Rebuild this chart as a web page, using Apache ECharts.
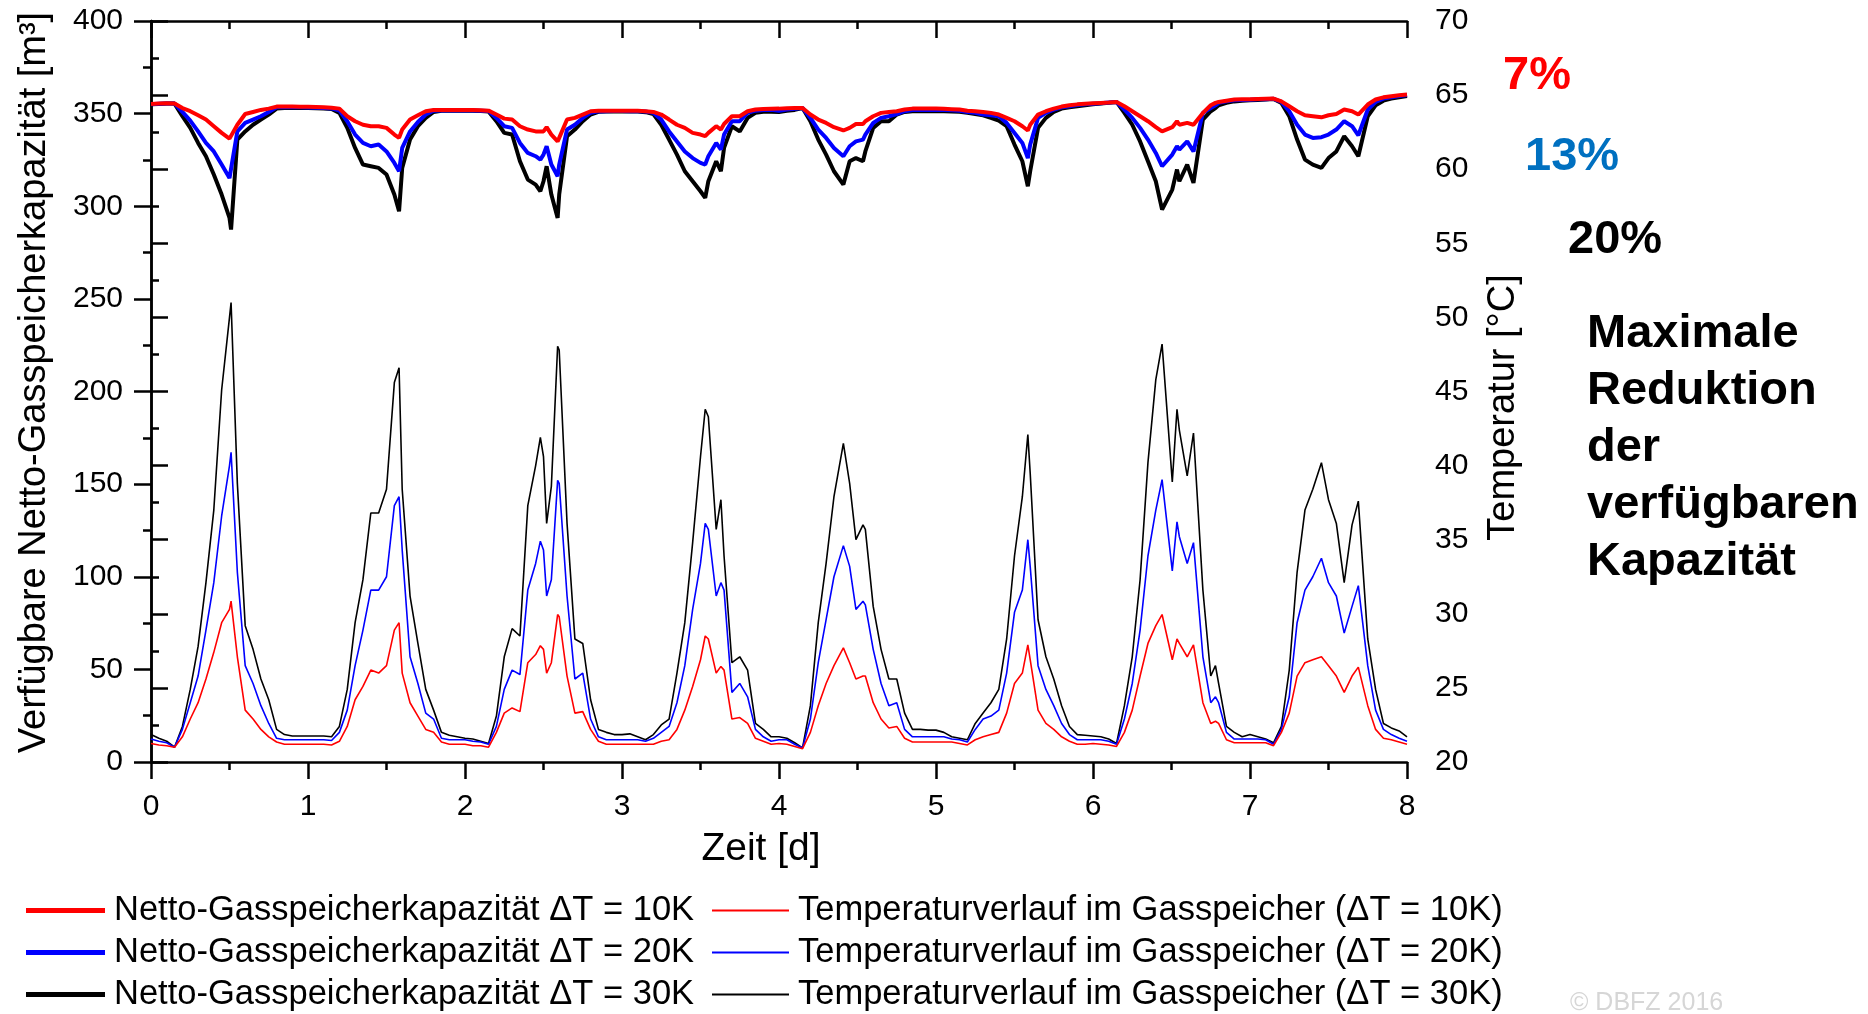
<!DOCTYPE html>
<html>
<head>
<meta charset="utf-8">
<script src="https://cdn.jsdelivr.net/npm/echarts@6/dist/echarts.min.js"></script>
<style>
  html, body { margin: 0; padding: 0; background: #fff; }
  #chart { width: 1868px; height: 1014px; }
</style>
</head>
<body>
<div id="chart"></div>
<script>
// Zeit [d] - gemeinsame Stuetzstellen fuer alle Kurven
const zeit = [
  0, 0.05, 0.1, 0.15, 0.2, 0.25, 0.3, 0.35, 0.4, 0.45, 0.5, 0.51, 0.55, 0.6, 0.65, 0.7, 0.75, 0.8, 0.85, 0.9, 0.95,
  1, 1.05, 1.1, 1.15, 1.2, 1.25, 1.3, 1.35, 1.4, 1.45, 1.5, 1.55, 1.58, 1.6, 1.65, 1.7, 1.75, 1.8, 1.85, 1.9, 1.95,
  2, 2.05, 2.1, 2.15, 2.2, 2.25, 2.3, 2.35, 2.4, 2.45, 2.48, 2.5, 2.52, 2.55, 2.59, 2.6, 2.65, 2.7, 2.75, 2.8, 2.85, 2.9, 2.95,
  3, 3.05, 3.1, 3.15, 3.2, 3.25, 3.3, 3.35, 3.4, 3.45, 3.5, 3.53, 3.55, 3.6, 3.63, 3.65, 3.7, 3.75, 3.8, 3.85, 3.9, 3.95,
  4, 4.05, 4.1, 4.15, 4.2, 4.25, 4.3, 4.35, 4.41, 4.45, 4.49, 4.535, 4.55, 4.6, 4.65, 4.7, 4.75, 4.8, 4.85, 4.9, 4.95,
  5, 5.05, 5.1, 5.15, 5.2, 5.25, 5.3, 5.35, 5.4, 5.45, 5.5, 5.55, 5.585, 5.6, 5.65, 5.7, 5.75, 5.8, 5.85, 5.9, 5.95,
  6, 6.05, 6.1, 6.15, 6.2, 6.25, 6.3, 6.35, 6.4, 6.44, 6.505, 6.535, 6.55, 6.6, 6.64, 6.7, 6.75, 6.78, 6.8, 6.85, 6.9, 6.95,
  7, 7.05, 7.1, 7.15, 7.2, 7.25, 7.3, 7.35, 7.4, 7.455, 7.5, 7.55, 7.6, 7.65, 7.69, 7.75, 7.8, 7.85, 7.9, 7.95, 8
];

// Netto-Gasspeicherkapazitaet [m3]
const kap10 = [
  355.2, 355.4, 355.6, 355.5, 353, 351.3, 349.1, 346.8, 343.2, 339.6, 336.5, 336, 344, 349.8, 350.9, 352, 352.7, 353.8, 353.8, 353.8, 353.7,
  353.7, 353.6, 353.5, 353.2, 352.7, 348.6, 345.9, 344, 343.2, 343.2, 342.3, 338.7, 336.9, 341.4, 346.8, 349.1, 351.3, 352, 352, 351.9, 351.9,
  351.9, 351.9, 351.8, 351.6, 349.5, 347.3, 346.8, 343.2, 341.4, 340.4, 340.4, 340.4, 342.7, 338.7, 335, 336.9, 346.8, 347.7, 349.5, 351.3, 351.5, 351.5, 351.6,
  351.6, 351.5, 351.5, 351.3, 350.9, 349.5, 346.8, 344, 342.3, 339.6, 338.7, 337.8, 339.6, 343.2, 341.4, 344.4, 348.6, 348.6, 351.3, 352.2, 352.5, 352.6,
  352.7, 352.9, 353, 353, 349.5, 346.8, 345, 342.7, 340.9, 342.3, 344.4, 344.4, 345.9, 348.6, 350.4, 350.9, 351.3, 352.2, 352.7, 352.7, 352.7,
  352.7, 352.6, 352.4, 352.2, 351.6, 351.3, 350.9, 350.4, 349.5, 347.7, 345.9, 343.2, 340.9, 344, 349.5, 351.3, 352.7, 353.8, 354.5, 355, 355.3,
  355.6, 355.8, 356, 356.3, 354, 351.3, 348.6, 345.9, 342.7, 340.4, 342.7, 345.9, 344, 345, 344, 350.4, 354.5, 355.8, 356.3, 357, 357.6, 357.7,
  357.8, 357.9, 358, 358.1, 356.6, 354, 351.3, 349.1, 348.6, 348, 349.1, 349.8, 352.2, 351.3, 349.5, 354.9, 357.6, 358.8, 359.4, 359.9, 360.3
];
const kap20 = [
  355, 355.3, 355.5, 355.4, 350.9, 346.2, 340.4, 334.2, 329.6, 322.5, 315.2, 314.4, 340.4, 345, 346.8, 348.6, 350.9, 353.4, 353.4, 353.4, 353.4,
  353.3, 353.2, 353.1, 352.8, 351.6, 345.9, 338.7, 334.2, 332.4, 333.3, 329.6, 323.4, 318.9, 331.5, 340.4, 345.5, 349.5, 351.6, 351.7, 351.7, 351.7,
  351.7, 351.7, 351.6, 351.4, 347.7, 343.2, 342.3, 334.2, 328.8, 327, 325.2, 327.9, 332.4, 322.5, 316.2, 322.5, 341.4, 344, 347.7, 350.4, 351.2, 351.3, 351.4,
  351.4, 351.3, 351.3, 351.1, 350.4, 346.8, 340.4, 335, 329.6, 326, 323.4, 322.5, 327, 334.2, 330.6, 338.7, 345.9, 345.9, 350.4, 351.6, 351.9, 352.1,
  351.6, 352.2, 352.6, 353, 347.7, 341.4, 336.9, 331.5, 327, 332.4, 335, 336, 338.7, 345, 347.7, 348.6, 349.8, 351.3, 352, 352, 352,
  352, 352, 351.8, 351.5, 350.9, 350.4, 349.5, 349.1, 348.6, 345, 339.6, 334.2, 326, 333.3, 347.7, 350.4, 352.2, 353.4, 354, 354.6, 355,
  355.3, 355.6, 356, 356.3, 352.2, 347.7, 342.3, 336, 328.8, 321.6, 327.9, 332.4, 330.6, 335, 329.6, 350.4, 353, 354.5, 355.8, 356.7, 357.2, 357.4,
  357.5, 357.7, 357.8, 358, 356.3, 351.3, 344, 338.7, 336.9, 337.3, 338.7, 341.4, 345.9, 343.2, 338.3, 352.2, 356.3, 358.1, 358.8, 359.5, 360.1
];
const kap30 = [
  355, 355.2, 355.4, 355.4, 348.6, 342.3, 334.2, 327, 317.1, 306.3, 293.7, 287.4, 336, 340.4, 344, 346.8, 349.5, 352.7, 353, 353, 353,
  353, 352.9, 352.8, 352.5, 350.4, 342.3, 331.5, 322.5, 321.6, 320.7, 317.1, 306.3, 297.3, 320.7, 336, 343.2, 347.7, 350.9, 351.5, 351.5, 351.5,
  351.5, 351.5, 351.4, 351.2, 345.9, 339.6, 338.7, 324.3, 314.4, 311.7, 308.1, 313.5, 321.6, 306.3, 293.7, 306.3, 337.8, 341.4, 345.9, 349.5, 351, 351.1, 351.2,
  351.2, 351.1, 351.1, 350.8, 349.8, 344, 336, 327.9, 318.9, 313.5, 308.1, 304.5, 313.5, 324.3, 318.9, 331.5, 343.2, 340.4, 347.7, 350.4, 351, 351,
  350.9, 351.5, 352, 353, 345.9, 336, 327.9, 318.9, 311.7, 324.3, 326, 324.3, 329.6, 342.3, 345.9, 345.9, 349.5, 350.9, 351.3, 351.3, 351.3,
  351.3, 351.3, 351.2, 351, 350.4, 349.8, 349.1, 347.7, 346.2, 343.2, 333.3, 324.3, 310.8, 318.9, 342.3, 347.7, 350.9, 352.7, 353.4, 354, 354.5,
  355, 355.4, 355.8, 356.3, 350.4, 344, 335, 324.3, 313.5, 298.2, 309, 319.8, 313.5, 322.5, 312.6, 346.8, 351.3, 353, 354.5, 355.8, 356.6, 357,
  357.2, 357.4, 357.6, 357.9, 355.8, 348.6, 336, 325.2, 322.5, 320.7, 326, 329.6, 337.8, 332.4, 327, 348.6, 354.5, 357, 358.1, 358.8, 359.5
];

// Temperaturverlauf im Gasspeicher [°C]
const temp10 = [
  21.25, 21.15, 21.1, 21.0, 21.7, 22.9, 24.0, 25.6, 27.4, 29.4, 30.3, 30.85, 27.1, 23.5, 22.9, 22.2, 21.7, 21.35, 21.2, 21.2, 21.2,
  21.2, 21.2, 21.2, 21.15, 21.4, 22.4, 24.2, 25.1, 26.2, 26.0, 26.5, 28.9, 29.4, 26.0, 24.0, 23.1, 22.2, 22.0, 21.35, 21.2, 21.2,
  21.2, 21.1, 21.1, 21.0, 22.0, 23.3, 23.65, 23.4, 26.7, 27.25, 27.85, 27.6, 26.0, 26.7, 29.95, 29.8, 25.8, 23.3, 23.4, 22.2, 21.4, 21.2, 21.2,
  21.2, 21.2, 21.2, 21.2, 21.2, 21.4, 21.5, 22.2, 23.5, 25.1, 26.9, 28.5, 28.3, 26.0, 26.45, 26.2, 22.9, 23.0, 22.6, 21.6, 21.4, 21.2,
  21.25, 21.2, 21.05, 20.9, 22.0, 23.8, 25.3, 26.5, 27.7, 26.7, 25.6, 25.8, 25.8, 24.0, 22.9, 22.3, 22.4, 21.6, 21.35, 21.35, 21.35,
  21.35, 21.35, 21.35, 21.25, 21.15, 21.5, 21.7, 21.85, 22.0, 23.3, 25.3, 26.0, 27.9, 26.9, 23.5, 22.6, 22.2, 21.7, 21.4, 21.2, 21.2,
  21.25, 21.2, 21.15, 21.05, 22.0, 23.5, 25.8, 28.0, 29.2, 29.95, 26.9, 28.3, 28.0, 27.1, 27.9, 24.0, 22.6, 22.75, 22.6, 21.5, 21.3, 21.3,
  21.3, 21.3, 21.3, 21.1, 22.0, 23.3, 25.8, 26.7, 26.9, 27.1, 26.5, 25.8, 24.7, 25.8, 26.4, 23.8, 22.2, 21.6, 21.5, 21.35, 21.2
];
const temp20 = [
  21.55, 21.4, 21.3, 21.0, 22.2, 24.0, 25.8, 28.9, 32.1, 36.6, 40.0, 40.9, 32.8, 26.5, 25.3, 23.8, 22.6, 21.6, 21.5, 21.5, 21.5,
  21.5, 21.5, 21.5, 21.45, 22.0, 23.5, 26.5, 28.9, 31.6, 31.6, 32.5, 37.3, 37.9, 34.3, 27.1, 25.3, 23.3, 22.9, 21.6, 21.5, 21.5,
  21.5, 21.4, 21.35, 21.2, 22.4, 24.9, 26.2, 25.9, 31.6, 33.4, 34.9, 34.3, 31.2, 32.3, 39.0, 38.8, 31.2, 25.6, 26.0, 22.9, 21.7, 21.5, 21.5,
  21.5, 21.5, 21.5, 21.4, 21.6, 22.0, 22.4, 24.0, 26.5, 30.3, 33.4, 36.1, 35.7, 31.2, 32.1, 31.6, 24.7, 25.3, 24.4, 22.2, 21.7, 21.4,
  21.5, 21.5, 21.2, 20.95, 22.9, 26.7, 29.6, 32.5, 34.6, 33.2, 30.3, 30.85, 30.6, 27.6, 25.3, 23.8, 24.0, 22.2, 21.7, 21.7, 21.7,
  21.7, 21.7, 21.55, 21.5, 21.35, 22.2, 22.9, 23.1, 23.5, 26.0, 30.1, 31.6, 35.0, 33.2, 26.5, 24.9, 23.8, 22.6, 21.85, 21.5, 21.5,
  21.5, 21.5, 21.4, 21.2, 22.9, 25.3, 28.9, 33.9, 37.0, 39.05, 32.9, 36.2, 35.2, 33.4, 34.8, 27.1, 24.0, 24.4, 24.0, 22.0, 21.55, 21.55,
  21.55, 21.55, 21.5, 21.2, 22.2, 24.4, 29.4, 31.6, 32.5, 33.75, 32.1, 31.2, 28.7, 30.5, 31.9, 26.5, 23.5, 22.2, 21.85, 21.6, 21.4
];
const temp30 = [
  21.85, 21.6, 21.4, 21.0, 22.4, 24.9, 27.8, 32.1, 37.0, 45.1, 50.0, 51.0, 38.8, 29.2, 27.6, 25.6, 24.2, 22.2, 21.85, 21.75, 21.75,
  21.75, 21.75, 21.75, 21.7, 22.4, 24.9, 29.4, 32.3, 36.8, 36.8, 38.4, 45.6, 46.6, 38.4, 31.2, 28.0, 24.9, 23.5, 22.0, 21.8, 21.7,
  21.6, 21.55, 21.4, 21.25, 23.1, 27.1, 29.0, 28.5, 37.3, 40.0, 41.9, 40.6, 36.1, 38.6, 48.05, 47.8, 36.1, 28.3, 28.0, 24.2, 22.2, 22.0, 21.85,
  21.85, 21.9, 21.7, 21.5, 21.85, 22.5, 22.9, 26.0, 29.4, 34.8, 40.6, 43.8, 43.3, 35.7, 37.7, 33.9, 26.7, 27.1, 26.2, 22.6, 22.2, 21.7,
  21.7, 21.6, 21.3, 20.95, 23.8, 29.4, 33.4, 37.9, 41.5, 38.8, 35.0, 36.0, 35.7, 30.5, 27.6, 25.6, 25.6, 23.3, 22.2, 22.2, 22.15,
  22.15, 22.0, 21.7, 21.6, 21.5, 22.6, 23.3, 24.0, 24.9, 28.3, 33.9, 37.9, 42.1, 39.5, 29.6, 27.1, 25.6, 23.8, 22.4, 21.85, 21.8,
  21.75, 21.7, 21.55, 21.25, 23.8, 27.1, 32.3, 40.2, 45.8, 48.2, 38.9, 43.8, 42.4, 39.3, 42.2, 31.6, 25.8, 26.5, 25.3, 22.4, 22.0, 21.7,
  21.85, 21.7, 21.55, 21.3, 22.4, 26.2, 32.8, 37.0, 38.4, 40.2, 37.7, 36.1, 32.1, 36.0, 37.6, 28.3, 24.9, 22.6, 22.3, 22.1, 21.7
];

const kapNamen = [
  'Netto-Gasspeicherkapazität ΔT = 10K',
  'Netto-Gasspeicherkapazität ΔT = 20K',
  'Netto-Gasspeicherkapazität ΔT = 30K'
];
const tempNamen = [
  'Temperaturverlauf im Gasspeicher (ΔT = 10K)',
  'Temperaturverlauf im Gasspeicher (ΔT = 20K)',
  'Temperaturverlauf im Gasspeicher (ΔT = 30K)'
];
const farben = ['#ff0000', '#0000ff', '#000000'];

const FONT = '"Liberation Sans", Arial, sans-serif';

const myChart = echarts.init(document.getElementById('chart'), null, { renderer: 'canvas' });

function paare(werte) {
  return zeit.map((t, i) => [t, werte[i]]);
}

const kapSerien = [kap10, kap20, kap30].map((werte, i) => ({
  name: kapNamen[i],
  type: 'line',
  xAxisIndex: 0,
  yAxisIndex: 0,
  data: paare(werte),
  showSymbol: false,
  symbol: 'none',
  color: farben[i],
  itemStyle: { color: farben[i] },
  lineStyle: { color: farben[i], width: 4 },
  z: 3 - i + 10
}));

const tempSerien = [temp10, temp20, temp30].map((werte, i) => ({
  name: tempNamen[i],
  type: 'line',
  xAxisIndex: 0,
  yAxisIndex: 1,
  data: paare(werte),
  showSymbol: false,
  symbol: 'none',
  color: farben[i],
  itemStyle: { color: farben[i] },
  lineStyle: { color: farben[i], width: 1.6 },
  z: 3 - i
}));

const achsLinie = { show: true, lineStyle: { color: '#000', width: 2.5 } };
const tickStil = { color: '#000', width: 2.5 };

const option = {
  animation: false,
  backgroundColor: '#fff',
  textStyle: { fontFamily: FONT },
  grid: { left: 151, right: 461, top: 21, bottom: 252, containLabel: false },
  xAxis: [
    {
      type: 'value',
      position: 'bottom',
      min: 0, max: 8, interval: 1,
      axisLine: achsLinie,
      axisTick: { show: true, inside: false, length: 17, lineStyle: tickStil },
      minorTick: { show: true, splitNumber: 2, length: 8, lineStyle: tickStil },
      splitLine: { show: false },
      axisLabel: { color: '#000', fontSize: 30, fontFamily: FONT, margin: 30 },
      name: 'Zeit [d]',
      nameLocation: 'middle',
      nameGap: 68,
      nameTextStyle: { color: '#000', fontSize: 39, fontFamily: FONT, padding: [0, 36, 0, 0] }
    },
    {
      type: 'value',
      position: 'top',
      min: 0, max: 8, interval: 1,
      axisLine: achsLinie,
      axisTick: { show: true, inside: true, length: 17, lineStyle: tickStil },
      minorTick: { show: true, splitNumber: 2, length: 8, lineStyle: tickStil },
      splitLine: { show: false },
      axisLabel: { show: false }
    }
  ],
  yAxis: [
    {
      type: 'value',
      position: 'left',
      min: 0, max: 400, interval: 50,
      axisLine: achsLinie,
      axisTick: { show: true, inside: false, length: 17, lineStyle: tickStil },
      minorTick: { show: true, splitNumber: 2, length: 8, lineStyle: tickStil },
      splitLine: { show: false },
      axisLabel: { color: '#000', fontSize: 30, fontFamily: FONT, margin: 28 },
      name: 'Verfügbare Netto-Gasspeicherkapazität [m³]',
      nameLocation: 'middle',
      nameRotate: 90,
      nameGap: 97,
      nameTextStyle: { color: '#000', fontSize: 38, fontFamily: FONT, padding: [0, 0, 0, 18] }
    },
    {
      type: 'value',
      position: 'right',
      min: 20, max: 70, interval: 5,
      axisLine: achsLinie,
      axisTick: { show: true, inside: false, length: 17, lineStyle: tickStil },
      minorTick: { show: true, splitNumber: 2, length: 8, lineStyle: tickStil },
      splitLine: { show: false },
      axisLabel: { color: '#000', fontSize: 30, fontFamily: FONT, margin: 28 },
      name: 'Temperatur [°C]',
      nameLocation: 'middle',
      nameRotate: 90,
      nameGap: 78,
      nameTextStyle: { color: '#000', fontSize: 38, fontFamily: FONT, padding: [0, 32, 0, 0] }
    }
  ],
  legend: [
    {
      data: kapNamen,
      orient: 'vertical',
      left: 26,
      top: 893,
      icon: 'rect',
      itemWidth: 79,
      itemHeight: 5,
      itemGap: 7,
      selectedMode: false,
      padding: 0,
      textStyle: { color: '#000', fontSize: 34.5, lineHeight: 35, fontFamily: FONT, padding: [0, 0, 0, 4] }
    },
    {
      data: tempNamen,
      orient: 'vertical',
      left: 712,
      top: 893,
      icon: 'rect',
      itemWidth: 77,
      itemHeight: 2,
      itemGap: 7,
      selectedMode: false,
      padding: 0,
      textStyle: { color: '#000', fontSize: 34.5, lineHeight: 35, fontFamily: FONT, padding: [0, 0, 0, 4] }
    }
  ],
  graphic: [
    { type: 'text', left: 1503, top: 53,
      style: { text: '7%', fill: '#ff0000', font: 'bold 47px ' + FONT } },
    { type: 'text', left: 1525, top: 134,
      style: { text: '13%', fill: '#0070c0', font: 'bold 47px ' + FONT } },
    { type: 'text', left: 1568, top: 217,
      style: { text: '20%', fill: '#000000', font: 'bold 47px ' + FONT } },
    { type: 'text', left: 1587, top: 306,
      style: { text: 'Maximale\nReduktion\nder\nverfügbaren\nKapazität', fill: '#000000',
               font: 'bold 47px ' + FONT, lineHeight: 57 } },
    { type: 'text', left: 1570, top: 991,
      style: { text: '© DBFZ 2016', fill: '#d6d6d6', font: '25px ' + FONT } }
  ],
  series: tempSerien.concat(kapSerien)
};

myChart.setOption(option);
</script>
</body>
</html>
